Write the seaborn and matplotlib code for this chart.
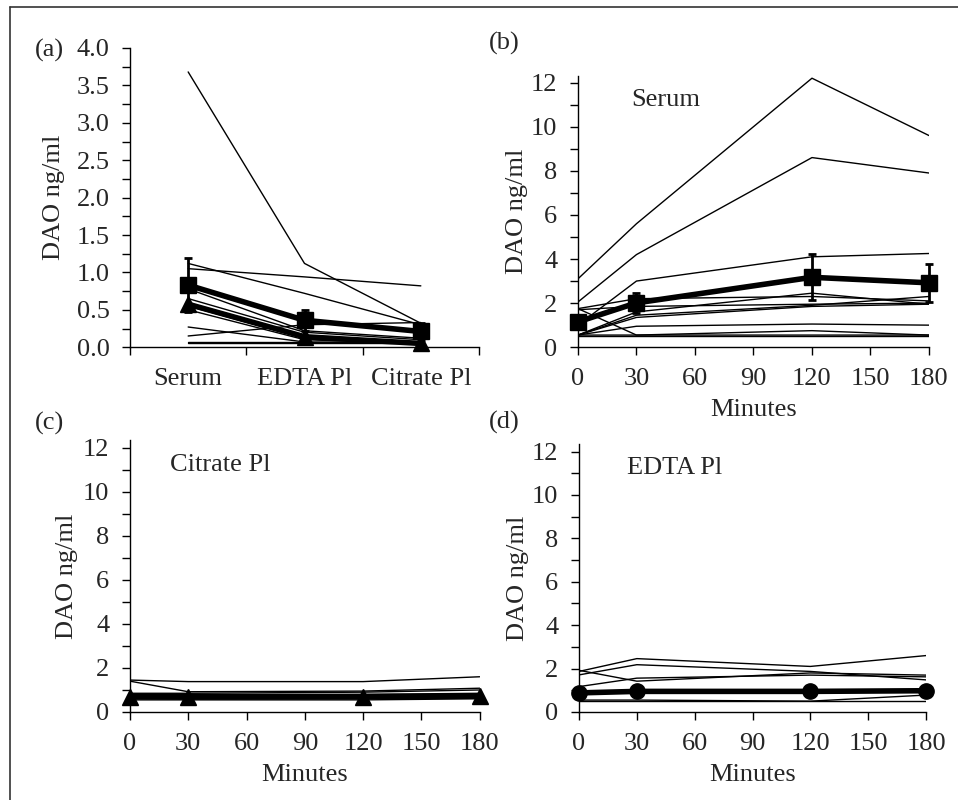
import numpy as np
import pandas as pd
import seaborn as sns
import matplotlib.pyplot as plt
from matplotlib.lines import Line2D
from matplotlib.ticker import MultipleLocator, FixedLocator, NullFormatter

# ---- data ----
tubes = ['Serum', 'EDTA Pl', 'Citrate Pl']
a_lines = [
    [3.68, 1.12, 0.32],
    [1.12, 0.72, 0.30],
    [1.05, 0.94, 0.82],
    [0.78, 0.22, 0.12],
    [0.65, 0.20, 0.10],
    [0.55, 0.12, 0.05],
    [0.50, 0.10, 0.05],
    [0.27, 0.07, 0.06],
    [0.15, 0.30, 0.33],
    [0.07, 0.07, 0.07],
    [0.06, 0.06, 0.06],
]
a_mean = [0.83, 0.36, 0.21]
a_err = [0.36, 0.14, 0.11]
a_median = [0.575, 0.14, 0.05]

minutes = [0, 30, 120, 180]
serum_lines = [
    [3.10, 5.60, 12.2, 9.60],
    [2.05, 4.20, 8.60, 7.90],
    [1.00, 3.00, 4.10, 4.25],
    [1.75, 2.20, 2.30, 2.10],
    [0.55, 1.60, 2.45, 1.95],
    [1.70, 1.85, 1.95, 2.00],
    [0.55, 1.45, 1.90, 2.30],
    [0.55, 1.35, 1.85, 1.95],
    [1.75, 0.55, 0.55, 0.55],
    [0.55, 0.95, 1.05, 1.00],
    [0.55, 0.55, 0.75, 0.55],
    [0.50, 0.50, 0.50, 0.50],
]
serum_mean = [1.15, 2.01, 3.17, 2.92]
serum_err = [0.20, 0.45, 1.05, 0.87]

citrate_lines = [
    [1.45, 1.38, 1.38, 1.60],
    [1.40, 0.92, 0.95, 1.08],
    [0.85, 0.85, 0.90, 1.00],
    [0.80, 0.80, 0.80, 0.85],
    [0.70, 0.70, 0.70, 0.70],
    [0.60, 0.60, 0.60, 0.65],
    [0.55, 0.55, 0.55, 0.60],
]
citrate_mean = [0.70, 0.68, 0.70, 0.72]

edta_lines = [
    [1.87, 2.46, 2.10, 2.60],
    [1.71, 2.18, 1.87, 1.48],
    [1.92, 1.42, 1.80, 1.70],
    [1.17, 1.56, 1.70, 1.62],
    [0.90, 0.95, 0.95, 0.95],
    [0.55, 0.55, 0.50, 0.78],
    [0.50, 0.50, 0.50, 0.50],
]
edta_mean = [0.88, 0.95, 0.95, 0.98]

FS = 19


def to_long(lines, xs):
    rows = []
    for i, ys in enumerate(lines):
        for x, y in zip(xs, ys):
            rows.append({'id': i, 'x': x, 'y': y})
    return pd.DataFrame(rows)


sns.set_style('ticks')
plt.rcParams['font.family'] = ['Liberation Serif', 'DejaVu Serif']
plt.rcParams['font.size'] = FS

fig = plt.figure(figsize=(9.58, 8), dpi=100)
ax_a = fig.add_axes([0.1357, 0.566, 0.3643, 0.374])
ax_b = fig.add_axes([0.6033, 0.566, 0.3664, 0.339])
ax_c = fig.add_axes([0.1357, 0.110, 0.3650, 0.340])
ax_d = fig.add_axes([0.6044, 0.110, 0.3622, 0.335])

thin = dict(color='black', linewidth=1.0, estimator=None, units='id', legend=False)
thick = dict(color='black', linewidth=4.0, markeredgecolor='black', clip_on=False, zorder=5)


def style_axis(ax, ylabelpad):
    for s in ['top', 'right']:
        ax.spines[s].set_visible(False)
    for s in ['left', 'bottom']:
        ax.spines[s].set_linewidth(1.0)
        ax.spines[s].set_color('black')
    ax.tick_params(which='both', direction='out', length=6, width=1, color='black',
                   labelsize=FS, pad=8.8)
    ax.set_xlabel('')
    ax.set_ylabel('DAO ng/ml', fontsize=FS, labelpad=ylabelpad)


# (a) tube types
df_a = to_long(a_lines, tubes)
sns.lineplot(data=df_a, x='x', y='y', ax=ax_a, sort=False, **thin)
ax_a.plot(tubes, a_mean, marker='s', markersize=11, **thick)
ax_a.errorbar(tubes, a_mean, yerr=a_err, fmt='none', ecolor='black', elinewidth=2,
              capsize=3, capthick=2, zorder=6, clip_on=False)
ax_a.plot(tubes, a_median, marker='^', markersize=11, **thick)
style_axis(ax_a, 8.5)
ax_a.set_xlim(-0.5, 2.5)
ax_a.set_ylim(0, 4.0)
ax_a.yaxis.set_major_locator(MultipleLocator(0.5))
ax_a.yaxis.set_minor_locator(MultipleLocator(0.25))
ax_a.yaxis.set_major_formatter(plt.FormatStrFormatter('%.1f'))
ax_a.xaxis.set_major_locator(FixedLocator([-0.5, 0.5, 1.5, 2.5]))
ax_a.xaxis.set_major_formatter(NullFormatter())
ax_a.xaxis.set_minor_locator(FixedLocator([0, 1, 2]))
ax_a.set_xticklabels(tubes, minor=True)
ax_a.tick_params(axis='x', which='minor', length=0, pad=15)


def time_panel(ax, lines, mean, marker, ms, name, label_pos, ytop, ylabelpad, err=None):
    df = to_long(lines, minutes)
    sns.lineplot(data=df, x='x', y='y', ax=ax, **thin)
    ax.plot(minutes, mean, marker=marker, markersize=ms, **thick)
    if err is not None:
        ax.errorbar(minutes, mean, yerr=err, fmt='none', ecolor='black', elinewidth=2,
                    capsize=3, capthick=2, zorder=6, clip_on=False)
    style_axis(ax, ylabelpad)
    ax.set_xlim(0, 180)
    ax.set_ylim(0, ytop)
    ax.xaxis.set_major_locator(MultipleLocator(30))
    ax.yaxis.set_major_locator(MultipleLocator(2))
    ax.yaxis.set_minor_locator(MultipleLocator(1))
    ax.set_xlabel('Minutes', fontsize=FS, labelpad=6.5)
    ax.text(label_pos[0], label_pos[1], name, transform=ax.transAxes, fontsize=FS,
            va='center', ha='left')


time_panel(ax_b, serum_lines, serum_mean, 's', 11, 'Serum', (0.151, 0.912), 12.3, 2.0, serum_err)
time_panel(ax_c, citrate_lines, citrate_mean, '^', 11, 'Citrate Pl', (0.114, 0.908), 12.35, 3.5)
time_panel(ax_d, edta_lines, edta_mean, 'o', 11, 'EDTA Pl', (0.138, 0.910), 12.35, 2.0)

# panel letters
for txt, x, y in [('(a)', 35, 50), ('(b)', 489, 43), ('(c)', 35, 423), ('(d)', 489, 422)]:
    fig.text(x / 958, 1 - y / 800, txt, fontsize=FS, ha='left', va='center')

# outer frame (left and top edges visible)
fig.add_artist(Line2D([10 / 958, 10 / 958], [0, 1 - 7 / 800], color='#333333', lw=1.2,
                      transform=fig.transFigure))
fig.add_artist(Line2D([10 / 958, 1], [1 - 7 / 800, 1 - 7 / 800], color='#333333', lw=1.2,
                      transform=fig.transFigure))

fig.savefig('out.png', dpi=100, facecolor='white')
